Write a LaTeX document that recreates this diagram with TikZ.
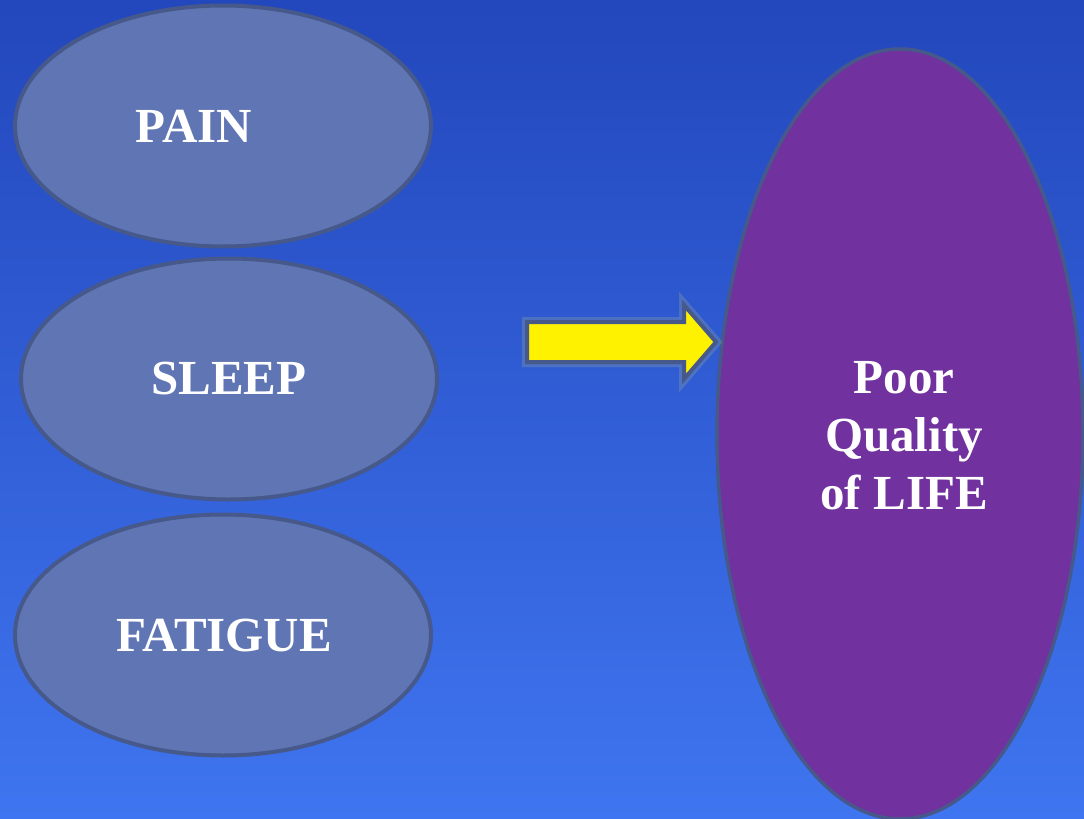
\documentclass[tikz,border=0pt]{standalone}
\usepackage{fontspec}
\setmainfont{Liberation Serif}
\usetikzlibrary{shapes.geometric}

\definecolor{bgtop}{HTML}{2347BC}
\definecolor{bgbot}{HTML}{3F75F0}
\definecolor{blobfill}{HTML}{6075B3}
\definecolor{blobline}{HTML}{46598A}
\definecolor{qolfill}{HTML}{71319E}

\begin{document}
\begin{tikzpicture}[x=1pt,y=-1pt,
    blob/.style={ellipse,draw=blobline,line width=4pt,fill=blobfill,inner sep=0pt,
        minimum width=416pt,minimum height=241pt},
    lbl/.style={text=white,font=\fontsize{49}{58}\selectfont\bfseries,align=center},
    bigarrow/.style={draw=blobline,line width=4pt,fill=yellow,line join=miter,
        preaction={draw=yellow!60!white,opacity=0.15,line width=10pt}}]
    \shade[top color=bgtop,bottom color=bgbot] (0,0) rectangle (1084,819);
    \useasboundingbox (0,0) rectangle (1084,819);

    \node[blob] (pain) at (223,126) {};
    \node[lbl] (painl) at (194,126) {PAIN};
    \node[blob] (sleep) at (229,379) {};
    \node[lbl] (sleepl) at (229,379) {SLEEP};
    \node[blob] (fatigue) at (223,635) {};
    \node[lbl] (fatiguel) at (224,636) {FATIGUE};

    \node[ellipse,draw=blobline,line width=3.5pt,fill=qolfill,inner sep=0pt,
        minimum width=366pt,minimum height=770pt] (qol) at (900,434) {};
    \node[lbl] (qoll) at (904,436) {Poor\\Quality\\of LIFE};

    % block arrow, tip on the big ellipse
    \coordinate (tip) at (716,342);
    \draw[bigarrow] (527,322) -- (684,322) -- (684,305) -- (tip) -- (684,379)
        -- (684,362) -- (527,362) -- cycle;
\end{tikzpicture}
\end{document}
